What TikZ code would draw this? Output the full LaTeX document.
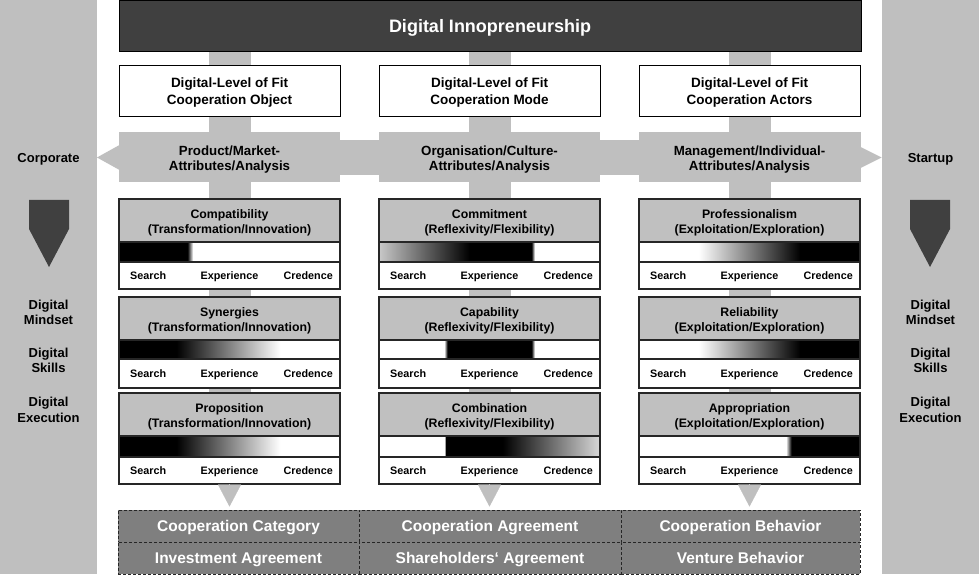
\documentclass[tikz,border=0pt]{standalone}
\usepackage{fontspec}
\setmainfont{Liberation Sans}
\usetikzlibrary{arrows.meta}
\pgfdeclarelayer{background}
\pgfsetlayers{background,main}
\definecolor{pgrey}{HTML}{BFBFBF}
\definecolor{tgrey}{HTML}{C0C0C0}
\definecolor{dgrey}{HTML}{404040}
\definecolor{bgrey}{HTML}{7F7F7F}
\definecolor{gl}{HTML}{C8C8C8}
\definecolor{gr}{HTML}{D8D8D8}
\definecolor{bord}{HTML}{262626}
\tikzset{
  hdr/.style={fill=dgrey, draw=black, line width=1pt, minimum width=742pt, minimum height=51pt, inner sep=0pt, text height=12.9pt, text depth=0pt, text=white, font=\fontsize{18}{20}\selectfont\bfseries},
  lbox/.style={fill=white, draw=black, line width=1pt, minimum width=221pt, minimum height=51pt, inner sep=0pt, align=center, font=\fontsize{13.5}{17}\selectfont\bfseries},
  btext/.style={inner sep=0pt, align=center, font=\fontsize{13.3}{15.5}\selectfont\bfseries},
  stext/.style={inner sep=0pt, align=center, font=\fontsize{13}{15.5}\selectfont\bfseries},
  s1text/.style={inner sep=0pt, text height=9.3pt, text depth=0pt, font=\fontsize{13}{15.5}\selectfont\bfseries},
  ctitle/.style={fill=tgrey, minimum width=221pt, inner sep=0pt, align=center, font=\fontsize{12.3}{15}\selectfont\bfseries},
  ctext/.style={inner sep=0pt, align=center, font=\fontsize{12.3}{15}\selectfont\bfseries},
  crow/.style={fill=white, minimum width=221pt, inner sep=0pt},
  lab/.style={inner sep=0pt, font=\fontsize{10.8}{12}\selectfont\bfseries},
  cborder/.style={draw=bord, line width=1.1pt},
  vbar/.style={draw=pgrey, line width=42pt},
  darrow/.style={draw=pgrey, fill=pgrey, line width=0.3pt, -{Triangle[width=23pt,length=22pt]}, shorten >=3pt},
  bcell/.style={fill=bgrey, draw=bord, line width=0.9pt, dash pattern=on 3pt off 2pt, minimum height=32pt, inner sep=0pt, text height=11.1pt, text depth=0pt, text=white, font=\fontsize{15.5}{17}\selectfont\bfseries},
}
\newcommand{\sg}[3]{\path[#3] ({\cL+#1*221},\cA) rectangle ({\cL+#2*221},\cB);}
\newcommand{\card}[9]{%
  \def\cL{#2}\def\cA{#4}\def\cB{#5}%
  \node[ctitle, minimum height={#4-#3}] (#1t) at ({#2+110.5},{(#3+#4)/2}) {};
  \node[ctext] (#1tt) at ({#2+110.5},{(#3+#4)/2+2.5}) {#7\\#8};
  \path[fill=white] (#2,#4) rectangle ({#2+221},#5);
  #9
  \node[crow, minimum height={#6-#5}] (#1l) at ({#2+110.5},{(#5+#6)/2}) {};
  \node[lab, anchor=base west] (#1s) at ({#2+11},{(#5+#6)/2+4}) {Search};
  \node[lab, anchor=base] (#1e) at ({#2+110.5},{(#5+#6)/2+4}) {Experience};
  \node[lab, anchor=base east] (#1c) at ({#2+214},{(#5+#6)/2+4}) {Credence};
  \draw[cborder] (#2,#3) rectangle ({#2+221},#6);
  \draw[cborder] (#2,#4) -- ({#2+221},#4) (#2,#5) -- ({#2+221},#5);
}
\begin{document}
\begin{tikzpicture}[x=1pt,y=-1pt]
\useasboundingbox (0,0) rectangle (979,577);

% header
\node[hdr] (hd) at (490,26.5) {Digital Innopreneurship};

% level of fit boxes
\node[lbox] (lf1) at (229.5,91.5) {};
\node[lbox] (lf2) at (489.5,91.5) {};
\node[lbox] (lf3) at (749.5,91.5) {};
\node[btext, font=\fontsize{13.5}{17}\selectfont\bfseries] (lt1) at (229.5,92.5) {Digital-Level of Fit\\Cooperation Object};
\node[btext, font=\fontsize{13.5}{17}\selectfont\bfseries] (lt2) at (489.5,92.5) {Digital-Level of Fit\\Cooperation Mode};
\node[btext, font=\fontsize{13.5}{17}\selectfont\bfseries] (lt3) at (749.5,92.5) {Digital-Level of Fit\\Cooperation Actors};

% band texts
\node[btext] (bt1) at (229.5,159.5) {Product/Market-\\Attributes/Analysis};
\node[btext] (bt2) at (489.5,159.5) {Organisation/Culture-\\Attributes/Analysis};
\node[btext] (bt3) at (749.5,159.5) {Management/Individual-\\Attributes/Analysis};

% side panel texts
\node[s1text] (corp) at (48.5,158) {Corporate};
\node[stext] (lm) at (48.5,312.5) {Digital\\Mindset};
\node[stext] (ls) at (48.5,360.5) {Digital\\Skills};
\node[stext] (le) at (48.5,410) {Digital\\Execution};
\node[s1text] (start) at (930.5,158) {Startup};
\node[stext] (rm) at (930.5,312.5) {Digital\\Mindset};
\node[stext] (rs) at (930.5,360.5) {Digital\\Skills};
\node[stext] (re) at (930.5,410) {Digital\\Execution};

% cards column 1
\card{c11}{119}{199}{242}{262}{289}{Compatibility}{(Transformation/Innovation)}{%
  \sg{0}{0.31}{fill=black}\sg{0.31}{0.335}{left color=black,right color=white}}
\card{c12}{119}{297}{340}{359}{388}{Synergies}{(Transformation/Innovation)}{%
  \sg{0}{0.26}{fill=black}\sg{0.26}{0.73}{left color=black,right color=white}}
\card{c13}{119}{393}{436}{457}{484}{Proposition}{(Transformation/Innovation)}{%
  \sg{0}{0.26}{fill=black}\sg{0.26}{0.73}{left color=black,right color=white}}
% cards column 2
\card{c21}{379}{199}{242}{262}{289}{Commitment}{(Reflexivity/Flexibility)}{%
  \sg{0}{0.41}{left color=gl,right color=black}\sg{0.41}{0.69}{fill=black}\sg{0.69}{0.705}{left color=black,right color=white}}
\card{c22}{379}{297}{340}{359}{388}{Capability}{(Reflexivity/Flexibility)}{%
  \sg{0.295}{0.31}{left color=white,right color=black}\sg{0.31}{0.69}{fill=black}\sg{0.69}{0.705}{left color=black,right color=white}}
\card{c23}{379}{393}{436}{457}{484}{Combination}{(Reflexivity/Flexibility)}{%
  \sg{0.295}{0.305}{left color=white,right color=black}\sg{0.305}{0.56}{fill=black}\sg{0.56}{1}{left color=black,right color=gr}}
% cards column 3
\card{c31}{639}{199}{242}{262}{289}{Professionalism}{(Exploitation/Exploration)}{%
  \sg{0.27}{0.73}{left color=white,right color=black}\sg{0.73}{1}{fill=black}}
\card{c32}{639}{297}{340}{359}{388}{Reliability}{(Exploitation/Exploration)}{%
  \sg{0.27}{0.73}{left color=white,right color=black}\sg{0.73}{1}{fill=black}}
\card{c33}{639}{393}{436}{457}{484}{Appropriation}{(Exploitation/Exploration)}{%
  \sg{0.665}{0.69}{left color=white,right color=black}\sg{0.69}{1}{fill=black}}

% bottom cells
\node[bcell, minimum width=241pt] (b11) at (238.5,526) {Cooperation Category};
\node[bcell, minimum width=262pt] (b21) at (490,526) {Cooperation Agreement};
\node[bcell, minimum width=239pt] (b31) at (740.5,526) {Cooperation Behavior};
\node[bcell, minimum width=241pt] (b12) at (238.5,558) {Investment Agreement};
\node[bcell, minimum width=262pt] (b22) at (490,558) {Shareholders‘ Agreement};
\node[bcell, minimum width=239pt] (b32) at (740.5,558) {Venture Behavior};

% down arrows
\draw[darrow] (c13l.south) -- (c13l.south |- b11.north);
\draw[darrow] (c23l.south) -- (c23l.south |- b21.north);
\draw[darrow] (c33l.south) -- (c33l.south |- b31.north);

% side pentagon arrows
\fill[dgrey] (29,200) -- (69,200) -- (69,229) -- (49,267) -- (29,229) -- cycle;
\fill[dgrey] (910,200) -- (950,200) -- (950,229) -- (930,267) -- (910,229) -- cycle;

\begin{pgfonlayer}{background}
  \fill[white] (0,0) rectangle (979,577);
  \fill[pgrey] (0,0) rectangle (97,574);
  \fill[pgrey] (882,0) rectangle (979,574);
  % band
  \fill[pgrey] (119,140) rectangle (861,175);
  \fill[pgrey] (119,132) rectangle (340,182);
  \fill[pgrey] (379,132) rectangle (600,182);
  \fill[pgrey] (639,132) rectangle (861,182);
  \fill[pgrey] (97,157.5) -- (119.5,145) -- (119.5,170) -- cycle;
  \fill[pgrey] (881.5,157.5) -- (860.5,147) -- (860.5,168) -- cycle;
  % vertical bars
  \draw[vbar] (hd.south -| lf1.center) -- (c13l.south);
  \draw[vbar] (hd.south -| lf2.center) -- (c23l.south);
  \draw[vbar] (hd.south -| lf3.center) -- (c33l.south);
\end{pgfonlayer}
\end{tikzpicture}
\end{document}
